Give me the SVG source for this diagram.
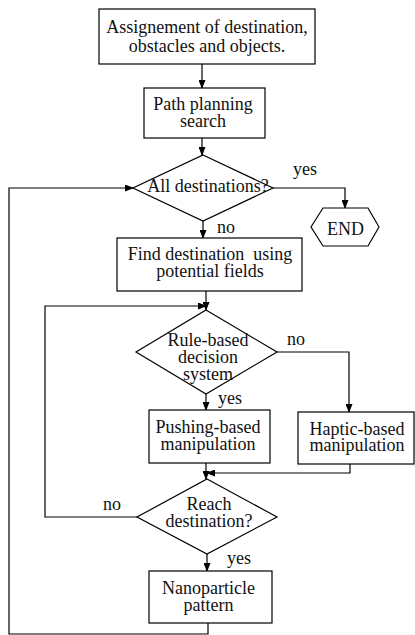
<svg xmlns="http://www.w3.org/2000/svg" width="415" height="635" viewBox="0 0 415 635">
<style>
.n{fill:#fff;stroke:#000;stroke-width:1.2}
.t{font-family:"Liberation Serif","Times New Roman",serif;font-size:18px;fill:#111;text-anchor:middle}
.l{font-family:"Liberation Serif","Times New Roman",serif;font-size:18px;fill:#111}
.c{fill:none;stroke:#000;stroke-width:1.2}
</style>
<defs>
<marker id="a" markerWidth="9" markerHeight="7" refX="8" refY="3.5" orient="auto" markerUnits="userSpaceOnUse">
<path d="M0,0 L9,3.5 L0,7 z" fill="#000"/>
</marker>
</defs>
<rect width="415" height="635" fill="#fff"/>
<g id="connectors">
<path class="c" d="M202,64 V88" marker-end="url(#a)"/>
<path class="c" d="M202,138 V155" marker-end="url(#a)"/>
<path class="c" d="M273,188 H345 V208" marker-end="url(#a)"/>
<path class="c" d="M203,221 V238" marker-end="url(#a)"/>
<path class="c" d="M206,291 V310" marker-end="url(#a)"/>
<path class="c" d="M137,517 H45 V306 H206" marker-end="url(#a)"/>
<path class="c" d="M277,352 H349 V412" marker-end="url(#a)"/>
<path class="c" d="M206,394 V410" marker-end="url(#a)"/>
<path class="c" d="M206,463 V479" marker-end="url(#a)"/>
<path class="c" d="M350,464 V473 H207" marker-end="url(#a)"/>
<path class="c" d="M207,554 V571" marker-end="url(#a)"/>
<path class="c" d="M208,623 V634 H9 V188 H133" marker-end="url(#a)"/>
</g>
<g id="labels">
<text class="l" x="293" y="175">yes</text>
<text class="l" x="217" y="233">no</text>
<text class="l" x="287" y="345">no</text>
<text class="l" x="218" y="404">yes</text>
<text class="l" x="103" y="510">no</text>
<text class="l" x="227" y="564">yes</text>
</g>
<g id="assign">
<rect class="n" x="99" y="9" width="216" height="55"/>
<text class="t" x="207" y="33">Assignement of destination,</text>
<text class="t" x="207" y="52">obstacles and objects.</text>
</g>
<g id="path-planning">
<rect class="n" x="144" y="88" width="121" height="50"/>
<text class="t" x="203" y="110">Path planning</text>
<text class="t" x="203" y="127">search</text>
</g>
<g id="all-destinations">
<polygon class="n" points="203,155 273,188 203,221 133,188"/>
<text class="t" x="208" y="192">All destinations?</text>
</g>
<g id="end">
<polygon class="n" points="311,227 323,208 368,208 379,227 368,246 323,246"/>
<text class="t" x="345.5" y="235">END</text>
</g>
<g id="find-destination">
<rect class="n" x="117" y="238" width="185" height="53"/>
<text class="t" x="210" y="260" xml:space="preserve">Find destination  using</text>
<text class="t" x="210" y="277">potential fields</text>
</g>
<g id="rule-based">
<polygon class="n" points="206,310 277,352 206,394 136,352"/>
<text class="t" x="208" y="346">Rule-based</text>
<text class="t" x="208" y="363">decision</text>
<text class="t" x="208" y="380">system</text>
</g>
<g id="pushing">
<rect class="n" x="149" y="410" width="121" height="53"/>
<text class="t" x="208" y="433">Pushing-based</text>
<text class="t" x="208" y="450">manipulation</text>
</g>
<g id="haptic">
<rect class="n" x="298" y="412" width="116" height="52"/>
<text class="t" x="357" y="435">Haptic-based</text>
<text class="t" x="357" y="451">manipulation</text>
</g>
<g id="reach">
<polygon class="n" points="207,479 277,517 207,554 137,517"/>
<text class="t" x="209" y="510">Reach</text>
<text class="t" x="209" y="527">destination?</text>
</g>
<g id="nanoparticle">
<rect class="n" x="149" y="571" width="123" height="52"/>
<text class="t" x="208.5" y="594">Nanoparticle</text>
<text class="t" x="208.5" y="611">pattern</text>
</g>
</svg>
